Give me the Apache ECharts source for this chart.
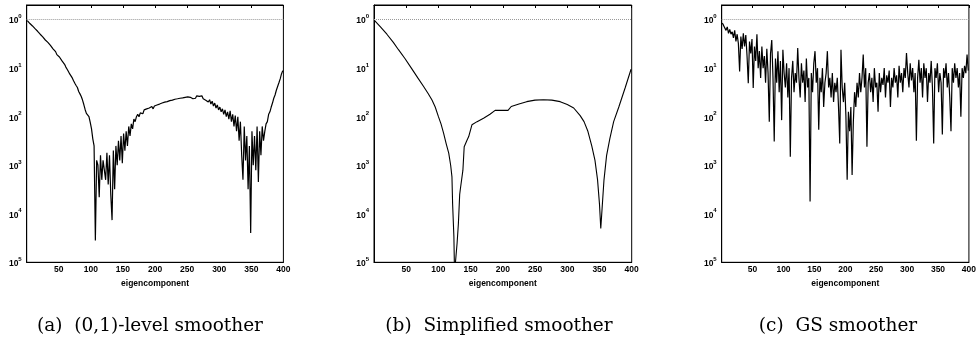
<!DOCTYPE html>
<html>
<head>
<meta charset="utf-8">
<script src="https://cdn.jsdelivr.net/npm/echarts@6/dist/echarts.min.js"></script>
<style>
html,body{margin:0;padding:0;background:#fff;}
#chart{width:979px;height:351px;}
</style>
</head>
<body>
<div id="chart"></div>
<script>
// ---------- data ----------
// panel (a): values at eigencomponent 1,3,5,...,399
const xStepAC = 2;
const valuesA = [
0.95,0.89,0.83,0.79,0.74,0.69,0.65,0.60,0.575,0.54,
0.50,0.47,0.44,0.41,0.38,0.35,0.34,0.316,0.295,0.27,
0.25,0.234,0.219,0.19,0.182,0.17,0.155,0.141,0.129,0.12,
0.105,0.095,0.085,0.076,0.071,0.063,0.055,0.049,0.044,0.040,
0.033,0.0295,0.026,0.022,0.0178,0.0141,0.0117,0.012,0.010,0.0076,
0.0056,0.0035,0.0025,2.8e-5,1.26e-3,1e-3,2.2e-4,1.6e-3,5e-4,1.26e-3,
7.9e-4,5e-4,1.8e-3,4e-4,1.6e-3,2.5e-4,7.4e-5,2e-3,3.2e-4,2.5e-3,
1e-3,3.2e-3,1.26e-3,4e-3,1.1e-3,4.5e-3,2e-3,5e-3,2.5e-3,6.3e-3,
4e-3,7.1e-3,5.6e-3,8.9e-3,7.9e-3,1e-2,1.12e-2,1e-2,1.2e-2,1.26e-2,
1.15e-2,1.38e-2,1.32e-2,1.45e-2,1.35e-2,1.51e-2,1.48e-2,1.62e-2,1.45e-2,1.66e-2,
1.58e-2,1.74e-2,1.62e-2,1.82e-2,1.7e-2,1.91e-2,1.78e-2,2e-2,1.86e-2,2.04e-2,
1.91e-2,2.14e-2,2e-2,2.19e-2,2.04e-2,2.29e-2,2.09e-2,2.34e-2,2.14e-2,2.4e-2,
2.19e-2,2.45e-2,2.24e-2,2.51e-2,2.29e-2,2.57e-2,2.34e-2,2.51e-2,2.63e-2,2.34e-2,
2.57e-2,2.4e-2,2.69e-2,2.45e-2,2.63e-2,2.4e-2,2.69e-2,2.34e-2,2.51e-2,2.19e-2,
2.4e-2,2e-2,2.24e-2,1.82e-2,2.09e-2,1.66e-2,1.91e-2,1.51e-2,1.74e-2,1.38e-2,
1.58e-2,1.26e-2,1.45e-2,1.12e-2,1.38e-2,1e-2,1.26e-2,8.9e-3,1.32e-2,7.9e-3,
1.12e-2,6.3e-3,1.05e-2,5e-3,1e-2,3.2e-3,7.9e-3,1.6e-3,5e-4,6.3e-3,
1.26e-3,4e-3,3.2e-4,2.5e-3,4e-5,5e-3,1e-3,4e-3,7.9e-4,6.3e-3,
4.5e-4,5e-3,1.6e-3,6.3e-3,3.2e-3,5e-3,7.1e-3,7.9e-3,1.12e-2,1.26e-2,
1.58e-2,1.91e-2,2.4e-2,2.8e-2,3.5e-2,4.2e-2,5e-2,6e-2,7.6e-2,8.9e-2
];
// panel (b): smooth curve, sampled points
const xB = [1,10,20,30,38,48,58,68,77,84,90,95,100,104,108,112,116,119,121,122,124,125,
127,129,131,133,134,136,138,140,144,147,152,160,170,180,188,208,213,225,237,250,263,276,
289,300,310,320,326,332,338,343,347,350,352,354,357,361,366,372,380,390,399];
const valuesB = [0.95,0.71,0.50,0.34,0.24,0.158,0.10,0.063,0.042,0.030,0.022,0.0158,0.010,
7.1e-3,4.6e-3,2.8e-3,1.78e-3,1e-3,5.75e-4,1.62e-4,3.4e-5,6e-6,
6e-6,2.5e-5,6.3e-5,2.5e-4,3.2e-4,3.2e-4,7.9e-4,2.4e-3,3.2e-3,3.9e-3,6.8e-3,7.9e-3,9.3e-3,
1.12e-2,1.35e-2,1.35e-2,1.62e-2,1.82e-2,2.04e-2,2.19e-2,2.24e-2,2.19e-2,
2.04e-2,1.78e-2,1.51e-2,1.05e-2,7.9e-3,5e-3,2.5e-3,1.26e-3,5e-4,1.58e-4,5e-5,1.26e-4,
5e-4,1.58e-3,3.5e-3,7.9e-3,1.58e-2,4e-2,9.5e-2];
// panel (c): values at eigencomponent 1,3,5,...,399
const valuesC = [
0.85,0.76,0.79,0.60,0.71,0.52,0.63,0.50,0.56,0.42,
0.60,0.355,0.50,0.32,0.085,0.45,0.25,0.52,0.28,0.48,
0.178,0.049,0.355,0.20,0.40,0.039,0.28,0.141,0.50,0.10,
0.224,0.063,0.28,0.10,0.178,0.05,0.25,0.079,7.9e-3,0.20,
0.38,0.063,3.1e-3,0.158,0.05,0.224,0.032,0.141,8.5e-3,0.24,
0.079,0.04,0.126,0.025,0.10,1.5e-3,0.063,0.141,0.032,0.079,
0.05,0.26,0.063,0.025,0.126,0.05,0.089,0.02,0.158,0.04,
0.063,1.8e-4,0.079,0.032,0.126,0.224,0.05,0.10,5.4e-3,0.063,
0.032,0.10,0.0158,0.05,0.079,0.224,0.04,0.063,0.025,0.079,
0.02,0.05,0.032,0.063,0.0158,2.8e-3,0.24,0.04,0.02,0.05,
0.01,5e-4,0.0126,5e-3,0.0158,6.3e-4,7.9e-3,0.032,0.0158,0.05,
0.025,0.079,0.032,0.063,0.19,0.04,0.10,2.4e-3,0.05,0.079,
0.032,0.063,0.02,0.10,0.04,0.05,0.0126,0.079,0.032,0.063,
0.045,0.10,0.025,0.071,0.05,0.089,0.0158,0.063,0.04,0.10,
0.05,0.071,0.025,0.112,0.05,0.079,0.032,0.10,0.063,0.204,
0.079,0.04,0.126,0.056,0.10,0.032,0.079,3.2e-3,0.063,0.148,
0.05,0.10,0.025,0.126,0.063,0.10,0.02,0.079,0.05,0.141,
0.04,2.8e-3,0.10,0.063,0.126,0.032,0.079,0.05,4.3e-3,0.10,
0.063,0.126,0.04,0.079,0.025,5e-3,0.10,0.05,0.126,0.063,
0.10,0.04,0.079,0.01,0.10,0.063,0.112,0.079,0.19,0.089
];
const yExpLabels = ['0','1','2','3','4','5'];   // labels shown for 10^0 ... 10^-5
const xTickLabels = ['50','100','150','200','250','300','350','400'];
const captions = ['(a)  (0,1)-level smoother', '(b)  Simplified smoother', '(c)  GS smoother'];
const xTitle = 'eigencomponent';

// ---------- layout ----------
const grids = [
  {left: 26.7, top: 5, width: 256.7, height: 257.3},
  {left: 374, top: 5, width: 257.7, height: 257.3},
  {left: 721.7, top: 5, width: 255, height: 257.3}
];
const captionX = [150, 499, 838];
const seriesData = [
  valuesA.map((v, i) => [1 + xStepAC * i, v]),
  valuesB.map((v, i) => [xB[i], v]),
  valuesC.map((v, i) => [1 + xStepAC * i, v])
];

const sans = 'Liberation Sans, Arial, Helvetica, sans-serif';
const option = {
  animation: false,
  backgroundColor: '#fff',
  grid: grids.map(g => Object.assign({show: true, borderColor: '#000', borderWidth: 1, backgroundColor: 'transparent'}, g)),
  xAxis: [],
  yAxis: [],
  series: [],
  graphic: []
};

grids.forEach((g, k) => {
  option.xAxis.push({
    gridIndex: k, type: 'value', position: 'bottom', min: 0, max: 400, interval: 50,
    name: xTitle, nameLocation: 'middle', nameGap: 13,
    nameTextStyle: {fontFamily: sans, fontWeight: 'bold', fontSize: 8.5, color: '#000'},
    axisLine: {show: true, lineStyle: {color: '#000', width: 1}},
    axisTick: {show: false},
    splitLine: {show: false},
    axisLabel: {
      margin: 3, fontFamily: sans, fontWeight: 'bold', fontSize: 8.5, color: '#000',
      showMinLabel: true, showMaxLabel: true, hideOverlap: false,
      formatter: v => { const s = String(v); return xTickLabels.indexOf(s) >= 0 ? s : ''; }
    }
  });
  option.xAxis.push({
    gridIndex: k, type: 'value', position: 'top', min: 0, max: 400, interval: 50,
    axisLine: {show: true, lineStyle: {color: '#000', width: 1}},
    axisTick: {show: true, inside: true, length: 3, lineStyle: {color: '#000'}},
    axisLabel: {show: false}, splitLine: {show: false}
  });
  option.yAxis.push({
    gridIndex: k, type: 'log', logBase: 10, min: 1e-5, max: 2,
    axisLine: {show: true, lineStyle: {color: '#000', width: 1}},
    axisTick: {show: false},
    splitLine: {show: false},
    axisLabel: {
      margin: 5, showMinLabel: true, showMaxLabel: true,
      formatter: v => {
        const lg = Math.log10(v);
        const e = Math.round(lg);
        if (Math.abs(lg - e) > 1e-6 || e > 0 || e < -5) return '';
        return '{b|10}{s|' + yExpLabels[-e] + '}';
      },
      rich: {
        b: {fontFamily: sans, fontWeight: 'bold', fontSize: 8.5, color: '#000', lineHeight: 12, verticalAlign: 'bottom'},
        s: {fontFamily: sans, fontWeight: 'bold', fontSize: 6, color: '#000', lineHeight: 12, verticalAlign: 'top', padding: [0, 0, 5, 0]}
      }
    }
  });
  option.series.push({
    type: 'line', xAxisIndex: 2 * k, yAxisIndex: k,
    data: seriesData[k], showSymbol: false, symbol: 'none', clip: true,
    lineStyle: {color: '#000', width: k === 1 ? 1.1 : 1.2}, silent: true,
    markLine: {
      silent: true, symbol: 'none', label: {show: false},
      lineStyle: {color: '#999', type: 'dotted', width: 1},
      data: [{yAxis: 1}]
    }
  });
  option.graphic.push({
    type: 'text', x: captionX[k], y: 326,
    style: {text: captions[k], font: '18.5px "DejaVu Serif", "Liberation Serif", serif', fill: '#000',
            textAlign: 'center', textVerticalAlign: 'middle'}
  });
});

const chart = echarts.init(document.getElementById('chart'), null, {renderer: 'canvas'});
chart.setOption(option);
</script>
</body>
</html>
